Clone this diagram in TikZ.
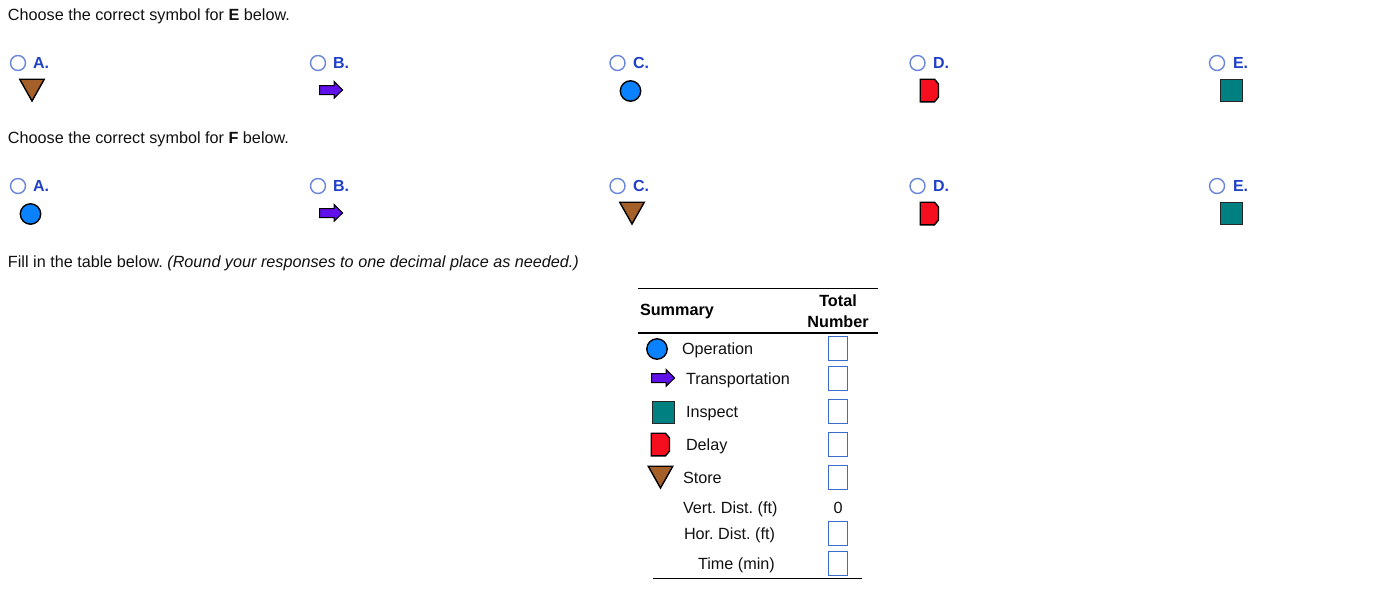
\documentclass[tikz,border=0pt]{standalone}
\usepackage{fontspec}
\setmainfont{Liberation Sans}
\definecolor{storefill}{HTML}{A5602A}
\definecolor{arrowfill}{HTML}{6010E8}
\definecolor{opfill}{HTML}{0A82FF}
\definecolor{delayfill}{HTML}{F50F1E}
\definecolor{inspfill}{HTML}{008080}
\definecolor{radiocol}{HTML}{6A86DC}
\definecolor{optcol}{HTML}{2040C8}
\definecolor{boxcol}{HTML}{3A6CC8}
\definecolor{txt}{HTML}{111111}
\tikzset{
  x=1pt,y=-1pt,
  body/.style={anchor=base west,inner sep=0pt,outer sep=0pt,yshift=-0.5pt,text=txt,font=\fontsize{16.2}{19}\selectfont\frenchspacing},
  thead/.style={inner sep=0pt,outer sep=0pt,yshift=-0.5pt,text=black,font=\fontsize{16.2}{21}\selectfont\bfseries,align=center},
  optlabel/.style={anchor=base west,inner sep=0pt,outer sep=0pt,yshift=-0.5pt,text=optcol,font=\fontsize{16}{19}\selectfont\bfseries},
  radio/.style={circle,draw=radiocol,line width=1.4pt,minimum size=15pt,inner sep=0pt},
  ansbox/.style={rectangle,draw=boxcol,line width=1pt,minimum width=19pt,minimum height=24pt,inner sep=0pt},
  symline/.style={draw=black,line width=1.4pt,line join=miter},
  pics/storesym/.style={code={\path[symline,fill=storefill] (0.2,0.7) -- (24.8,0.7) -- (12.5,22.5) -- cycle;}},
  pics/arrowsym/.style={code={\path[symline,fill=arrowfill,line width=1pt] (0.5,5) -- (15,5) -- (15,0.8) -- (23.6,9.5) -- (15,17.8) -- (15,14) -- (0.5,14) -- cycle;}},
  pics/opsym/.style={code={\path[symline,fill=opfill] (0,0) circle[radius=10.2];}},
  pics/delaysym/.style={code={\path[symline,fill=delayfill] (0.7,0.7) -- (15,0.7) -- (19,5.5) -- (19,18.5) -- (15,23.3) -- (0.7,23.3) -- cycle;}},
  pics/inspsym/.style={code={\path[symline,fill=inspfill,draw=black!85] (0.7,0.7) rectangle (22.3,22.3);}},
}
\begin{document}
\begin{tikzpicture}
\useasboundingbox (0,0) rectangle (1380,592);
\fill[white] (0,0) rectangle (1380,592);
% question E
\node[body] (qe) at (8,20) {Choose the correct symbol for \textbf{E} below.};
\node[radio] (ra1) at (18,63) {};
\node[optlabel] (la1) at (33,68) {A.};
\node[radio] (rb1) at (318,63) {};
\node[optlabel] (lb1) at (333,68) {B.};
\node[radio] (rc1) at (617.5,63) {};
\node[optlabel] (lc1) at (633,68) {C.};
\node[radio] (rd1) at (917.5,63) {};
\node[optlabel] (ld1) at (933,68) {D.};
\node[radio] (re1) at (1217,63) {};
\node[optlabel] (le1) at (1233,68) {E.};
\pic at (19.5,78.5) {storesym};
\pic at (319,80.5) {arrowsym};
\pic at (630.5,91) {opsym};
\pic at (919.5,78.5) {delaysym};
\pic at (1220,79) {inspsym};
% question F
\node[body] (qf) at (8,143) {Choose the correct symbol for \textbf{F} below.};
\node[radio] (ra2) at (18,186) {};
\node[optlabel] (la2) at (33,191) {A.};
\node[radio] (rb2) at (318,186) {};
\node[optlabel] (lb2) at (333,191) {B.};
\node[radio] (rc2) at (617.5,186) {};
\node[optlabel] (lc2) at (633,191) {C.};
\node[radio] (rd2) at (917.5,186) {};
\node[optlabel] (ld2) at (933,191) {D.};
\node[radio] (re2) at (1217,186) {};
\node[optlabel] (le2) at (1233,191) {E.};
\pic at (30.5,214) {opsym};
\pic at (319,203.5) {arrowsym};
\pic at (619.5,201.5) {storesym};
\pic at (919.5,201.5) {delaysym};
\pic at (1220,202) {inspsym};
% fill in
\node[body] (fill) at (8,267) {Fill in the table below. \textit{(Round your responses to one decimal place as needed.)}};
% table
\draw[line width=1pt] (638,288.5) -- (878,288.5);
\draw[line width=2pt] (638,333) -- (878,333);
\draw[line width=1pt] (653,578) -- (862,578);
\node[body,text=black,font=\fontsize{16.2}{19}\selectfont\bfseries] (summary) at (640,315) {Summary};
\node[thead] (total) at (838,310.5) {Total\\Number};
\pic at (657,349) {opsym};
\pic at (651,368.5) {arrowsym};
\pic at (652,401) {inspsym};
\pic at (650.5,432.5) {delaysym};
\pic at (648,465.5) {storesym};
\node[body] (t1) at (682,354) {Operation};
\node[body] (t2) at (686,384) {Transportation};
\node[body] (t3) at (686,417) {Inspect};
\node[body] (t4) at (686,450) {Delay};
\node[body] (t5) at (683,483) {Store};
\node[body] (t6) at (683,513) {Vert. Dist. (ft)};
\node[body] (t7) at (684,539) {Hor. Dist. (ft)};
\node[body] (t8) at (698,569) {Time (min)};
\node[ansbox] (b1) at (838,348) {};
\node[ansbox] (b2) at (838,378.5) {};
\node[ansbox] (b3) at (838,411.5) {};
\node[ansbox] (b4) at (838,444.5) {};
\node[ansbox] (b5) at (838,477.5) {};
\node[body,anchor=base] (zero) at (838,513) {0};
\node[ansbox] (b7) at (838,533.5) {};
\node[ansbox] (b8) at (838,563.5) {};
\end{tikzpicture}
\end{document}
